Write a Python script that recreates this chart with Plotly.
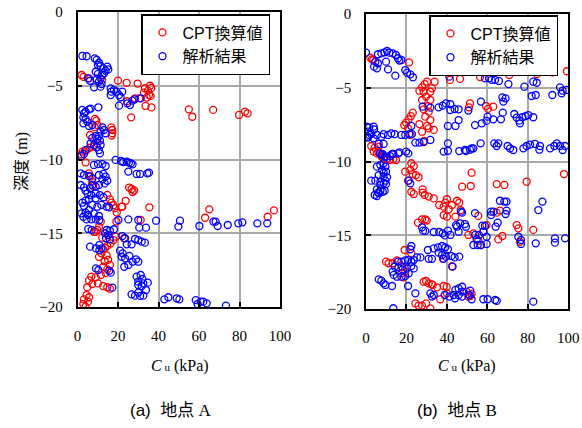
import plotly.graph_objects as go

# ---- data: (Cu [kPa], depth [m]) ----
a_cpt = [(2.0,-4.27),(3.0,-4.4),(5.7,-4.5),(12.2,-4.6),(20.0,-4.65),(24.3,-4.8),(29.7,-4.85),(35.8,-5.0),(36.4,-5.15),(33.3,-5.17),(34.8,-5.33),(32.8,-5.47),(35.3,-5.63),(36.1,-5.69),(30.5,-5.85),(34.2,-5.8),(28.4,-5.85),(24.5,-6.05),(33.6,-6.37),(36.5,-6.47),(26.5,-7.14),(55.0,-6.6),(56.7,-7.1),(67.0,-6.64),(79.8,-6.98),(82.7,-6.76),(84.0,-6.87),
(8.6,-7.25),(9.3,-7.37),(9.8,-7.66),(8.5,-7.82),(16.7,-7.82),(17.2,-8.0),(17.2,-8.22),(16.9,-8.38),(6.2,-8.34),(9.8,-8.9),(8.1,-9.13),(6.0,-9.2),(4.5,-9.36),(2.4,-9.47),(1.9,-9.65),(3.7,-9.47),
(4.0,-10.2),(5.7,-10.94),(6.5,-11.16),(7.3,-11.5),(7.8,-11.8),(14.7,-12.4),(16.0,-12.7),(16.7,-12.93),(17.7,-13.1),(18.4,-13.3),(19.4,-13.6),(22.1,-13.2),(23.8,-12.8),(25.5,-11.9),(26.7,-12.0),(27.2,-12.2),(28.0,-12.1),(21.8,-13.2),(35.5,-13.24),(19.2,-14.2),(31.2,-14.1),(65.1,-13.38),(63.0,-13.95),(93.9,-13.88),(97.0,-13.45),
(11.5,-14.2),(10.6,-14.56),(9.8,-14.78),(9.0,-14.9),(8.1,-14.9),(12.2,-15.3),(18.9,-15.23),(17.7,-15.46),(16.4,-15.68),(14.7,-15.86),(23.0,-15.34),(13.6,-16.0),(12.7,-16.1),(11.8,-16.36),(10.6,-16.6),(14.4,-16.5),(15.1,-16.8),(13.4,-16.9),(16.0,-17.15),(12.7,-17.27),(14.7,-17.45),(13.9,-17.7),(11.5,-17.83),(9.0,-17.99),(6.8,-17.94),(5.7,-18.2),(7.3,-18.44),(4.8,-18.66),(10.1,-18.4),(12.7,-18.58),(14.7,-18.66),(16.0,-18.76),(4.5,-19.19),(5.7,-19.34),(3.2,-19.48),(5.2,-19.64),(4.0,-19.98),(2.9,-19.8)]

a_fem = [(2.4,-2.98),(4.5,-3.0),(8.5,-3.14),(9.5,-3.25),(10.6,-3.44),(10.1,-3.59),(11.4,-3.66),(12.8,-3.82),(14.7,-3.71),(15.2,-3.89),(13.9,-3.98),(9.0,-4.05),(10.1,-4.2),(12.3,-4.27),(13.1,-4.16),(5.2,-4.5),(6.2,-4.66),(9.5,-4.56),(11.4,-4.5),(10.6,-4.72),(11.9,-4.88),(11.4,-5.06),(8.2,-5.11),(16.4,-5.18),(16.7,-5.4),(18.0,-5.29),(19.3,-5.4),(22.1,-5.4),(20.5,-5.63),(21.3,-5.78),(16.4,-5.63),(20.5,-6.35),(24.6,-6.19),(25.9,-6.31),(27.1,-6.01),(28.2,-5.92),(31.2,-5.85),
(2.4,-6.64),(3.2,-6.87),(4.0,-6.76),(5.7,-6.6),(6.5,-6.55),(10.3,-6.46),(2.9,-7.14),(4.0,-7.25),(4.9,-7.44),(5.7,-7.73),(7.3,-7.66),(2.9,-7.55),(12.3,-7.82),(13.1,-8.0),(13.9,-8.22),(11.4,-8.11),(10.6,-8.41),(9.0,-8.41),(7.3,-8.54),(9.8,-8.61),(11.1,-8.72),(6.5,-8.9),(8.2,-9.02),(9.5,-9.17),(11.4,-9.02),(10.6,-9.36),(11.1,-9.58),(4.0,-9.36),(3.2,-9.63),(1.9,-9.76),
(18.8,-10.03),(21.5,-10.1),(22.6,-10.17),(24.3,-10.15),(25.4,-10.21),(26.4,-10.26),(27.2,-10.33),(25.1,-10.82),(29.2,-10.98),(30.9,-10.98),(35.3,-10.89),(34.5,-10.94),
(8.1,-10.37),(10.1,-10.31),(12.3,-10.31),(13.9,-10.44),(1.6,-10.94),(3.2,-11.05),(5.7,-11.12),(7.3,-11.28),(10.6,-11.05),(12.8,-10.98),(13.9,-11.16),(12.3,-11.34),(13.4,-11.62),(14.7,-11.44),(1.6,-11.73),(3.2,-11.89),(4.0,-12.11),(6.2,-11.95),(7.3,-11.73),(9.0,-11.84),(10.6,-11.73),(4.9,-12.29),(6.8,-12.41),(9.0,-12.29),(11.1,-12.41),(12.8,-12.56),(9.0,-12.63),(5.7,-12.68),(4.0,-12.79),(2.4,-12.93),(3.2,-13.15),(7.3,-13.08),(9.8,-13.2),(11.8,-13.08),(14.4,-13.2),(15.6,-13.24),(5.7,-13.42),(4.0,-13.6),(1.9,-13.65),(5.2,-13.76),(8.1,-13.65),(10.6,-13.83),(9.0,-14.06),(6.8,-14.06),(4.5,-14.06),(2.9,-13.88),
(25.1,-14.06),(30.0,-14.1),(38.8,-14.15),(20.2,-14.1),(10.8,-14.1),(50.6,-14.15),(49.8,-14.55),(60.2,-14.51),(67.1,-14.21),(68.2,-14.21),(69.2,-14.51),(74.2,-14.44),(79.4,-14.33),(81.4,-14.26),(88.8,-14.33),(93.7,-14.33),(30.5,-14.62),(33.8,-14.62),
(5.3,-14.71),(7.0,-14.78),(14.4,-14.78),(16.0,-14.83),(13.6,-15.0),(15.2,-15.12),(18.0,-14.73),(14.1,-15.34),(16.0,-15.41),(22.1,-15.19),(23.5,-15.34),(24.3,-15.75),(26.7,-15.75),(28.4,-15.39),(30.0,-15.46),(31.7,-15.57),(33.3,-15.64),(6.2,-15.91),(9.1,-16.02),(10.8,-16.14),(11.9,-16.02),(10.8,-15.8),(21.0,-16.18),(22.3,-16.36),(21.8,-16.59),(23.5,-16.7),(25.6,-16.54),(23.1,-17.27),(25.1,-17.15),(27.2,-16.93),(28.9,-16.77),(30.0,-16.93),(9.1,-17.38),(10.3,-17.49),(15.7,-17.54),(16.4,-17.67),(17.2,-18.69),
(29.2,-17.94),(31.2,-17.83),(32.0,-18.1),(30.0,-18.28),(32.5,-18.4),(34.7,-18.35),(30.0,-18.51),(31.7,-18.58),(33.8,-18.85),(26.7,-19.14),(28.4,-19.23),(30.0,-19.03),(30.9,-19.25),(32.5,-19.23),
(42.9,-19.48),(44.9,-19.34),(49.0,-19.41),(50.3,-19.48),(58.4,-19.53),(59.3,-19.8),(60.8,-19.64),(62.1,-19.64),(63.8,-19.75),(73.3,-19.91)]

b_cpt = [(2.1,-2.96),(3.0,-3.07),(3.6,-3.12),(21.3,-3.28),(43.5,-3.39),(61.6,-3.46),(82.0,-3.6),(99.3,-3.88),(92.1,-3.95),(84.4,-4.07),(70.8,-4.14),(56.4,-4.27),(41.5,-4.47),(46.5,-4.4),
(30.2,-4.59),(29.0,-4.75),(27.7,-4.97),(26.4,-5.2),(28.5,-5.27),(31.8,-5.27),(32.6,-5.04),(33.9,-4.59),(29.7,-5.6),(27.7,-5.83),(31.8,-5.83),(30.6,-6.24),(28.5,-6.46),(31.0,-6.62),(29.3,-6.96),(31.8,-7.19),(23.1,-6.69),(22.2,-6.92),(21.1,-7.14),(19.8,-7.37),(18.9,-7.53),(20.8,-7.75),(26.4,-7.46),(30.2,-7.59),(31.0,-7.75),(33.5,-7.86),(27.7,-7.98),(28.8,-8.61),(22.0,-8.2),
(51.4,-6.06),(50.9,-6.33),(59.3,-6.24),(60.3,-6.43),(62.9,-6.28),
(2.6,-8.95),(4.3,-9.06),(6.3,-8.99),(3.8,-9.33),(5.4,-9.45),(6.1,-9.33),(6.9,-9.49),(7.7,-9.67),(8.6,-9.79),(10.2,-9.85),(11.9,-9.9),(13.5,-9.85),(14.8,-9.9),
(19.4,-10.69),(21.9,-10.58),(23.1,-10.85),(24.7,-10.92),(26.0,-11.07),(22.4,-10.12),(23.6,-10.31),(20.8,-11.3),(22.4,-12.05),(23.6,-12.2),(28.0,-11.89),(28.0,-12.11),(29.0,-12.27),(31.0,-12.38),(33.5,-12.5),(36.2,-12.95),(38.4,-13.06),(39.2,-12.79),(40.0,-12.56),(40.9,-13.24),(42.5,-12.95),(45.0,-12.66),(46.1,-12.79),(38.4,-13.63),(40.0,-13.74),(44.2,-13.74),(47.5,-11.71),(46.8,-13.29),
(25.7,-14.15),(27.7,-13.92),(29.3,-13.92),(30.0,-14.0),
(52.2,-10.76),(51.8,-11.66),(64.6,-11.53),(68.4,-11.59),(79.4,-11.37),(97.9,-10.85),(66.2,-13.33),(64.6,-13.47),(55.5,-13.69),(59.6,-14.31),(58.0,-14.76),(53.1,-14.87),(50.6,-14.98),(65.4,-15.28),(67.4,-15.05),(74.5,-14.31),(75.3,-14.53),(76.1,-15.44),(82.7,-14.64),(55.5,-15.37),(56.8,-15.66),
(9.9,-16.79),(11.2,-16.9),(13.2,-16.9),(15.3,-16.7),(17.8,-17.13),(19.4,-17.47),(17.5,-17.58),(18.6,-17.85),(19.1,-16.0),(22.4,-16.23),(38.0,-16.6),(42.5,-17.1),
(28.5,-18.15),(31.0,-18.26),(33.0,-18.37),(35.1,-18.53),(38.4,-18.44),(39.9,-18.5),(40.0,-18.94),(36.7,-19.34),(29.7,-18.1),(32.5,-18.33),
(24.4,-19.62),(26.0,-19.77),(27.7,-19.77),(29.7,-19.62),(31.8,-19.96),
(52.2,-18.98),(50.6,-19.16),(49.7,-18.82),(51.5,-19.12)]

b_fem = [(0.0,-2.62),(5.9,-2.73),(7.6,-2.67),(9.2,-2.6),(10.4,-2.51),(11.5,-2.62),(13.2,-2.67),(14.8,-2.78),(15.8,-3.0),(16.5,-3.16),(17.5,-3.12),(4.6,-3.23),(5.9,-3.34),(4.0,-3.57),(5.4,-3.68),(9.9,-3.23),(10.9,-3.75),(14.5,-4.18),(19.4,-3.8),(20.3,-3.98),(21.9,-4.09),(23.2,-4.29),(41.2,-4.25),
(58.8,-4.36),(60.8,-4.36),(62.1,-4.47),(63.8,-4.47),(65.7,-4.54),(70.4,-4.75),(78.3,-4.93),(82.7,-4.59),(84.4,-4.66),(95.9,-4.97),(97.2,-5.2),(99.2,-5.15),(96.7,-5.38),(92.1,-5.49),(81.9,-5.56),(83.9,-5.49),(67.4,-5.65),(69.0,-5.72),(67.9,-5.94),(56.8,-5.94),(50.6,-6.55),
(60.1,-6.96),(59.6,-7.25),(57.2,-7.41),(53.9,-7.53),(62.9,-7.14),(66.7,-7.14),(67.6,-6.69),(73.3,-6.78),(74.5,-7.03),(75.8,-7.23),(76.1,-7.41),(77.3,-7.0),(78.9,-6.92),(80.2,-6.85),(82.7,-7.0),
(28.0,-6.28),(31.8,-6.35),(35.9,-6.33),(37.9,-6.21),(39.5,-6.06),(41.7,-6.12),(41.7,-6.51),(43.8,-6.44),(45.8,-6.46),(45.8,-7.19),(40.5,-7.59),(44.2,-7.59),(22.4,-7.59),
(1.6,-7.68),(3.8,-7.64),(0.3,-7.64),(1.0,-7.98),(2.6,-8.14),(1.0,-8.38),(3.8,-8.43),(5.4,-8.2),(7.6,-8.32),(8.7,-8.14),(10.9,-8.2),(12.5,-8.09),(14.2,-8.14),(17.5,-8.2),(19.4,-8.2),(21.4,-8.14),(22.7,-8.14),(1.6,-8.2),(0.7,-8.32),(4.0,-7.82),(6.3,-8.81),(8.7,-8.81),
(24.4,-8.72),(26.4,-8.72),(28.5,-8.68),(31.8,-8.54),(40.5,-8.77),(12.9,-9.49),(16.5,-9.38),(19.8,-9.33),(8.2,-9.49),(9.2,-9.67),(38.4,-9.33),(40.5,-9.27),
(6.9,-9.45),(7.7,-9.56),(10.2,-9.67),(11.9,-9.63),(13.5,-9.49),(16.0,-9.45),(20.9,-9.45),
(46.1,-9.29),(49.4,-9.29),(51.4,-9.2),(53.1,-9.11),(56.7,-8.77),(52.2,-9.11),(63.4,-8.77),(64.6,-8.95),(65.4,-8.77),(70.0,-8.95),(71.2,-9.11),(72.8,-9.22),(77.8,-9.11),(79.4,-8.95),(81.1,-8.85),(83.5,-8.8),(86.0,-8.95),(85.7,-9.2),(91.0,-9.11),(93.1,-8.95),(94.3,-8.77),(95.9,-8.95),(97.2,-9.22),(98.4,-8.95),(48.9,-9.22),
(5.4,-10.35),(7.1,-10.24),(8.7,-10.12),(9.6,-10.35),(7.9,-10.58),(8.7,-10.76),(9.9,-10.69),(6.3,-10.92),(8.7,-11.03),(10.4,-11.07),(9.6,-11.3),(7.1,-11.37),(8.7,-11.48),(9.9,-11.53),(4.6,-11.3),(2.6,-11.3),(7.1,-11.59),(5.4,-11.89),(7.1,-11.98),(8.3,-12.05),(5.9,-12.11),(4.3,-12.27),(5.4,-12.34),(6.5,-12.16),(9.2,-11.98),
(21.1,-11.3),(21.9,-11.48),
(27.7,-14.46),(28.2,-14.69),(29.3,-14.71),(33.5,-14.78),(36.2,-14.78),(37.9,-14.87),(40.5,-14.69),(38.9,-15.01),(41.7,-14.98),(45.0,-14.42),(45.8,-14.76),(47.5,-13.47),(44.5,-14.31),(47.0,-13.4),(53.9,-13.5),(46.5,-14.19),(48.9,-14.24),(49.4,-14.42),
(66.2,-12.66),(68.4,-12.72),(69.5,-12.72),(61.8,-13.4),(63.1,-13.4),(61.8,-13.63),(69.5,-13.33),(69.0,-13.56),(87.2,-12.72),(85.2,-13.29),(65.1,-14.15),(64.1,-14.42),(57.5,-14.35),(54.0,-14.98),(55.8,-14.98),(59.6,-15.1),(53.1,-15.66),(55.2,-15.66),(56.8,-15.66),(59.6,-15.59),(75.3,-15.1),(76.6,-15.32),(76.6,-15.59),(83.9,-15.55),(93.4,-15.21),(93.4,-15.5),(98.4,-15.21),(58.8,-14.37),(58.0,-14.76),(54.7,-15.27),
(22.4,-15.73),(21.9,-15.95),
(30.6,-16.0),(33.5,-15.89),(35.6,-15.82),(37.6,-15.73),(39.2,-15.82),(40.5,-15.95),(35.9,-16.18),(37.6,-16.34),(39.5,-16.45),(42.2,-16.41),(43.8,-16.5),(46.1,-16.45),(42.8,-17.13),(38.4,-16.6),(32.6,-16.6),(31.0,-16.6),(26.9,-16.5),(25.2,-16.5),(23.6,-16.68),(22.4,-16.79),(20.8,-16.68),(19.4,-16.7),(17.5,-16.79),(15.8,-16.79),(14.2,-17.13),(16.1,-17.18),(18.1,-17.32),(20.3,-17.25),(22.4,-17.09),(23.6,-17.25),(21.1,-17.58),(19.4,-17.76),(17.5,-17.81),(15.3,-17.81),(13.7,-17.69),(13.2,-17.47),(6.3,-17.99),(7.6,-18.08),(8.7,-18.26),(9.6,-18.37),(12.9,-18.44),(20.8,-18.44),(24.4,-18.94),(31.8,-18.94),(32.6,-19.16),(33.5,-19.05),(38.9,-19.05),(41.2,-19.16),(44.2,-18.71),(45.8,-18.6),(47.5,-18.49),(47.5,-18.82),(43.3,-19.05),(45.8,-19.05),(47.5,-19.16),(13.5,-19.95),
(51.5,-18.76),(52.2,-19.34),(58.0,-19.34),(60.1,-19.34),(63.8,-19.39),(64.6,-19.45),(82.7,-19.5),(51.1,-19.05),(44.0,-19.27)]

series_names = ["CPT換算値", "解析結果"]
x_ticks = [0, 20, 40, 60, 80, 100]
y_ticks = [0, -5, -10, -15, -20]

RED = "#ff0000"
BLUE = "#0000ff"


def xy(pts):
    return [p[0] for p in pts], [p[1] for p in pts]


fig = go.Figure()


def add(pts, name, color, xa, ya, legend):
    x, y = xy(pts)
    fig.add_trace(go.Scatter(
        x=x, y=y, mode="markers", name=name, xaxis=xa, yaxis=ya, legend=legend,
        marker=dict(symbol="circle-open", size=7, color=color, line=dict(width=1.3, color=color)),
    ))


add(a_cpt, series_names[0], RED, "x", "y", "legend")
add(a_fem, series_names[1], BLUE, "x", "y", "legend")
add(b_cpt, series_names[0], RED, "x2", "y2", "legend2")
add(b_fem, series_names[1], BLUE, "x2", "y2", "legend2")

W, H = 582, 428
tickfont = dict(family="Liberation Serif, Times New Roman, serif", size=15, color="black")
axis_common = dict(
    showline=True, linecolor="black", linewidth=1.5, mirror=True,
    showgrid=True, gridcolor="#a9a9a9", gridwidth=1.5,
    ticks="inside", ticklen=5, tickwidth=1.5, tickcolor="black",
    zeroline=False, tickfont=tickfont, automargin=False,
)
xa = dict(axis_common, range=[0, 100], tickvals=x_ticks, ticklabelstandoff=14)
ya = dict(axis_common, range=[-20, 0], tickvals=y_ticks, ticklabelstandoff=10)

legend_style = dict(xanchor="left", yanchor="top",
                    bordercolor="black", borderwidth=1.5, bgcolor="white",
                    font=dict(family="Liberation Sans, Noto Sans CJK JP", size=16, color="black"),
                    tracegroupgap=0, itemwidth=30)

fig.update_layout(
    width=W, height=H,
    margin=dict(l=0, r=0, t=0, b=0, autoexpand=False),
    paper_bgcolor="white", plot_bgcolor="white",
    xaxis=dict(xa, domain=[77.5 / W, 280 / W], anchor="y"),
    yaxis=dict(ya, domain=[1 - 307 / H, 1 - 12 / H], anchor="x"),
    xaxis2=dict(xa, domain=[366 / W, 568.3 / W], anchor="y2"),
    yaxis2=dict(ya, domain=[1 - 309 / H, 1 - 14 / H], anchor="x2"),
    legend=dict(legend_style, x=141 / W, y=1 - 14 / H),
    legend2=dict(legend_style, x=429 / W, y=1 - 15 / H),
    showlegend=True,
)

serif = "Liberation Serif, Noto Sans CJK JP"
sans = "Liberation Sans, Noto Sans CJK JP"
ann = []
ann.append(dict(text="深度 (m)", x=22 / W, y=1 - 162 / H, xref="paper", yref="paper",
                xanchor="center", yanchor="middle",
                textangle=-90, showarrow=False, font=dict(family=serif, size=16, color="black")))
for cx in (180, 467):
    ann.append(dict(text="<i>C</i><span style='font-size:11px'> u</span> (kPa)", x=cx / W, y=1 - 366 / H,
                    xref="paper", yref="paper", xanchor="center", yanchor="middle", showarrow=False,
                    font=dict(family=serif, size=16, color="black")))
for cx, lab, site in ((170, "(a)", "A"), (457, "(b)", "B")):
    ann.append(dict(text=f"{lab}  地点<span style='font-family:Liberation Serif'> {site}</span>",
                    x=cx / W, y=1 - 410 / H, xref="paper", yref="paper",
                    xanchor="center", yanchor="middle", showarrow=False,
                    font=dict(family=sans, size=17, color="black")))
fig.update_layout(annotations=ann)

fig.write_html("out.html", config={"displayModeBar": False},
               post_script="document.body.style.margin='0px';")
